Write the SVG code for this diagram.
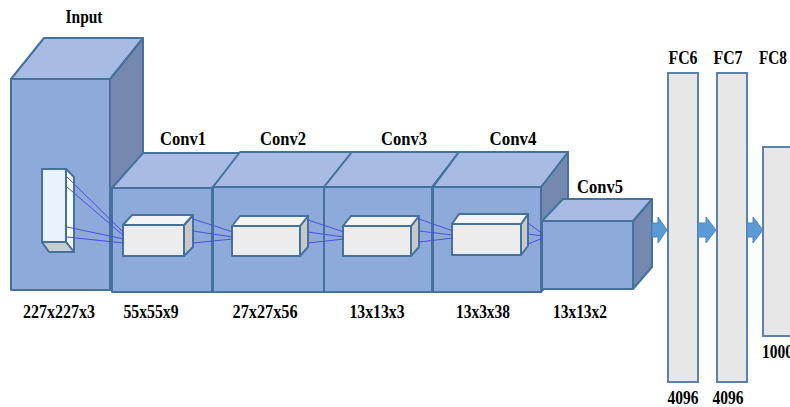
<svg xmlns="http://www.w3.org/2000/svg" width="790" height="407" viewBox="0 0 790 407">
<style>
.fr{fill:#8eaadb;stroke:#44729d;stroke-width:2;stroke-linejoin:round}
.tp{fill:#a8bbe5;stroke:#44729d;stroke-width:2;stroke-linejoin:round}
.rt{fill:#7488b0;stroke:#44729d;stroke-width:2;stroke-linejoin:round}
.bf{fill:#ececec;stroke:#44729d;stroke-width:2;stroke-linejoin:round}
.bt{fill:#f4f4f4;stroke:#44729d;stroke-width:2;stroke-linejoin:round}
.br{fill:#c8c8c8;stroke:#44729d;stroke-width:2;stroke-linejoin:round}
.fc{fill:#e7e7e7;stroke:#5b82a8;stroke-width:2}
.ar{fill:#5b9bd5;stroke:#4a86c0;stroke-width:1}
.ln{stroke:#4b4fdc;stroke-width:1;fill:none}
text{font-family:"Liberation Serif","DejaVu Serif","Times New Roman",serif;font-weight:bold;font-size:18px;fill:#000}
.c{text-anchor:middle}
</style>
<g id="input">
<polygon class="rt" points="110,79 143,38 143,250 110,290"/>
<polygon class="tp" points="11,79 44,38 143,38 110,79"/>
<rect class="fr" x="11" y="79" width="99" height="211"/>
<polygon points="66,169 74,177 74,252 66,242" fill="#f6f9ff" stroke="#44729d" stroke-width="2" stroke-linejoin="round"/>
<polygon points="42,242 66,242 74,252 49,252" fill="#c8ccd4" stroke="#44729d" stroke-width="2" stroke-linejoin="round"/>
<rect x="42" y="169" width="24" height="73" fill="#eaf2fd" stroke="#44729d" stroke-width="2"/>
<text class="c" x="84" y="23" textLength="37" lengthAdjust="spacingAndGlyphs">Input</text>
<text class="c" x="59" y="318" textLength="72" lengthAdjust="spacingAndGlyphs">227x227x3</text>
</g>
<g id="conv1">
<polygon class="rt" points="212,188 243,153 243,262 212,292"/>
<polygon class="tp" points="112,188 143,153 243,153 212,188"/>
<rect class="fr" x="112" y="188" width="100" height="104"/>
<text class="c" x="183" y="145" textLength="46" lengthAdjust="spacingAndGlyphs">Conv1</text>
<text class="c" x="151" y="318" textLength="55" lengthAdjust="spacingAndGlyphs">55x55x9</text>
</g>
<g id="conv2">
<polygon class="rt" points="324,187 352,152 352,262 324,292"/>
<polygon class="tp" points="213,187 240,152 352,152 324,187"/>
<rect class="fr" x="213" y="187" width="111" height="105"/>
<text class="c" x="283" y="145" textLength="46" lengthAdjust="spacingAndGlyphs">Conv2</text>
<text class="c" x="265" y="318" textLength="65" lengthAdjust="spacingAndGlyphs">27x27x56</text>
</g>
<g id="conv3">
<polygon class="rt" points="432,187 459,152 459,262 432,292"/>
<polygon class="tp" points="324,187 352,152 459,152 432,187"/>
<rect class="fr" x="324" y="187" width="108" height="105"/>
<text class="c" x="404" y="145" textLength="46" lengthAdjust="spacingAndGlyphs">Conv3</text>
<text class="c" x="377" y="318" textLength="55" lengthAdjust="spacingAndGlyphs">13x13x3</text>
</g>
<g id="conv4">
<polygon class="rt" points="541,187 568,152 568,262 541,292"/>
<polygon class="tp" points="433,187 459,152 568,152 541,187"/>
<rect class="fr" x="433" y="187" width="108" height="105"/>
<text class="c" x="513" y="145" textLength="47" lengthAdjust="spacingAndGlyphs">Conv4</text>
<text class="c" x="483" y="318" textLength="54" lengthAdjust="spacingAndGlyphs">13x3x38</text>
</g>
<g id="conv5">
<polygon class="rt" points="633,221 652,199 652,267 633,289"/>
<polygon class="tp" points="542,221 563,199 652,199 633,221"/>
<rect class="fr" x="542" y="221" width="91" height="68"/>
<text class="c" x="600" y="193" textLength="46" lengthAdjust="spacingAndGlyphs">Conv5</text>
<text class="c" x="580" y="318" textLength="54" lengthAdjust="spacingAndGlyphs">13x13x2</text>
</g>
<g id="box1">
<polygon class="br" points="184,225 193,215 193,247 184,256"/>
<polygon class="bt" points="123,225 132,215 193,215 184,225"/>
<rect class="bf" x="123" y="225" width="61" height="31"/>
</g>
<g id="box2">
<polygon class="br" points="300,226 308,216 308,247 300,256"/>
<polygon class="bt" points="232,226 240,216 308,216 300,226"/>
<rect class="bf" x="232" y="226" width="68" height="30"/>
</g>
<g id="box3">
<polygon class="br" points="411,226 419,216 419,247 411,256"/>
<polygon class="bt" points="343,226 351,216 419,216 411,226"/>
<rect class="bf" x="343" y="226" width="68" height="30"/>
</g>
<g id="box4">
<polygon class="br" points="521,224 528,214 528,246 521,255"/>
<polygon class="bt" points="452,224 459,214 528,214 521,224"/>
<rect class="bf" x="452" y="224" width="69" height="31"/>
</g>
<g id="fc6">
<rect class="fc" x="668" y="73" width="30" height="309"/>
<text class="c" x="683" y="64" textLength="29" lengthAdjust="spacingAndGlyphs">FC6</text>
<text class="c" x="683" y="404" textLength="31" lengthAdjust="spacingAndGlyphs">4096</text>
</g>
<g id="fc7">
<rect class="fc" x="717" y="73" width="30" height="309"/>
<text class="c" x="728" y="64" textLength="29" lengthAdjust="spacingAndGlyphs">FC7</text>
<text class="c" x="728" y="404" textLength="31" lengthAdjust="spacingAndGlyphs">4096</text>
</g>
<g id="fc8">
<rect class="fc" x="763" y="147" width="40" height="189"/>
<text class="c" x="773" y="64" textLength="28" lengthAdjust="spacingAndGlyphs">FC8</text>
<text x="762" y="358" textLength="31" lengthAdjust="spacingAndGlyphs">1000</text>
</g>
<g id="connectors">
<line class="ln" x1="67" y1="177" x2="124" y2="233"/>
<line class="ln" x1="67" y1="187" x2="124" y2="236"/>
<line class="ln" x1="67" y1="227" x2="124" y2="239"/>
<line class="ln" x1="67" y1="237" x2="124" y2="243"/>
<line class="ln" x1="193" y1="219" x2="233" y2="232"/>
<line class="ln" x1="193" y1="231" x2="233" y2="237"/>
<line class="ln" x1="193" y1="243" x2="233" y2="239"/>
<line class="ln" x1="308" y1="220" x2="344" y2="232"/>
<line class="ln" x1="308" y1="232" x2="344" y2="237"/>
<line class="ln" x1="308" y1="243" x2="344" y2="239"/>
<line class="ln" x1="419" y1="219" x2="453" y2="231"/>
<line class="ln" x1="419" y1="231" x2="453" y2="235"/>
<line class="ln" x1="419" y1="242" x2="453" y2="238"/>
<line class="ln" x1="528" y1="223" x2="543" y2="234"/>
<line class="ln" x1="528" y1="234" x2="543" y2="236"/>
<line class="ln" x1="528" y1="244" x2="543" y2="238"/>
<polygon class="ar" points="652,223 658,223 658,217 667,230 658,243 658,237 652,237"/>
<polygon class="ar" points="698,223 706,223 706,217 716,230 706,243 706,237 698,237"/>
<polygon class="ar" points="747,223 753,223 753,217 763,230 753,243 753,237 747,237"/>
</g>
</svg>
